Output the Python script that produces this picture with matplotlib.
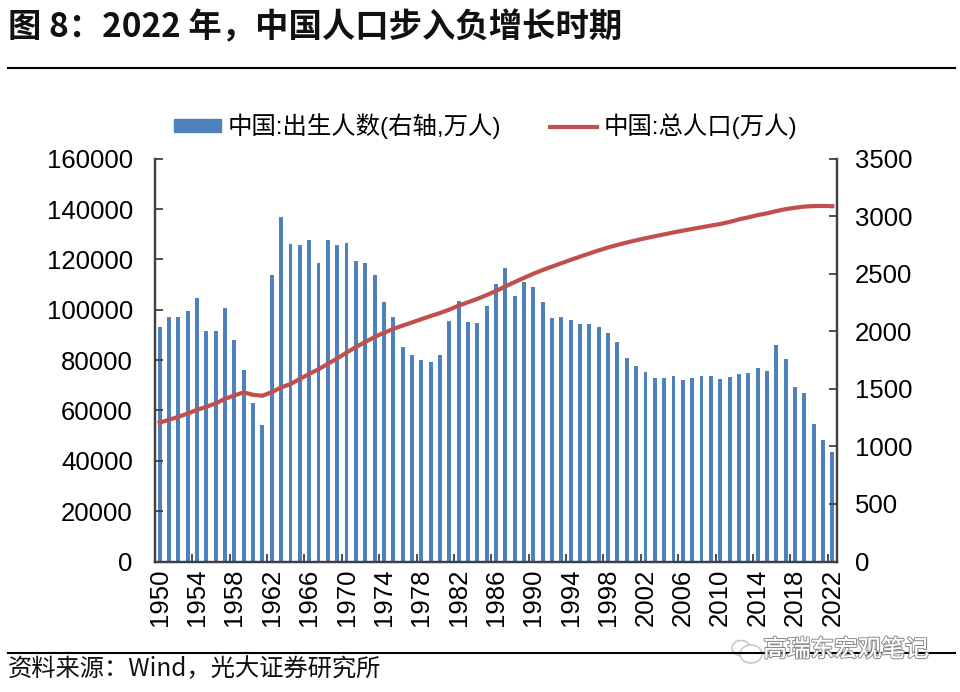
import numpy as np
import matplotlib
matplotlib.use('Agg')
import matplotlib.pyplot as plt
import matplotlib.patheffects as pe
from matplotlib.patches import Ellipse
from matplotlib.lines import Line2D
from matplotlib.patches import Patch

plt.rcParams['font.family'] = ['Liberation Sans', 'Noto Sans CJK SC', 'DejaVu Sans']

years = list(range(1950, 2023))

# 中国:出生人数, right axis
births = [2041, 2128, 2125, 2174, 2287, 2003, 2003, 2200, 1925, 1665,
          1378, 1184, 2487, 2996, 2756, 2747, 2794, 2591, 2794, 2750,
          2770, 2608, 2594, 2487, 2252, 2125, 1861, 1795, 1754, 1734,
          1792, 2090, 2261, 2079, 2076, 2223, 2409, 2548, 2304, 2429,
          2388, 2255, 2116, 2125, 2102, 2061, 2067, 2035, 1989, 1908,
          1769, 1699, 1647, 1598, 1592, 1615, 1581, 1592, 1610, 1612,
          1586, 1604, 1633, 1638, 1685, 1653, 1882, 1763, 1520, 1462,
          1196, 1057, 955]

# 中国:总人口, left axis
population = [55196, 56300, 57482, 58796, 60266, 61465, 62828, 64653, 65994, 67207,
              66207, 65859, 67296, 69172, 70499, 72538, 74542, 76368, 78534, 80671,
              82992, 85229, 87177, 89211, 90859, 92420, 93717, 94974, 96259, 97542,
              98705, 100072, 101654, 103008, 104357, 105851, 107507, 109300, 111026, 112704,
              114333, 115823, 117171, 118517, 119850, 121121, 122389, 123626, 124761, 125786,
              126743, 127627, 128453, 129227, 129988, 130756, 131448, 132129, 132802, 133450,
              134091, 134916, 135922, 136726, 137646, 138326, 139232, 140011, 140541, 141008,
              141212, 141260, 141175]

left_ticks = [0, 20000, 40000, 60000, 80000, 100000, 120000, 140000, 160000]
right_ticks = [0, 500, 1000, 1500, 2000, 2500, 3000, 3500]

title = '图 8\uff1a2022 年\uff0c中国人口步入负增长时期'
source = '资料来源\uff1aWind\uff0c光大证券研究所'
watermark = '高瑞东宏观笔记'

BLUE = '#4F81BD'
RED = '#C0504D'
AXIS = '#404040'
W, H = 960, 692

fig = plt.figure(figsize=(W / 100, H / 100), dpi=100)
ax_bar = fig.add_axes([155 / W, 1 - 561.5 / H, 682 / W, 402.7 / H])
ax_line = ax_bar.twinx()

x = np.arange(len(years))
ax_bar.bar(x, births, width=0.42, color=BLUE)
ax_line.plot(x, population, color=RED, lw=3)

# tick marks sit between the categories, labels under the bars
ax_bar.set_xticks(x[4::4] - 0.5)
ax_bar.set_xticklabels([])
ax_bar.set_xticks(x[::4], labels=[str(years[i]) for i in x[::4]], minor=True)
ax_bar.tick_params(axis='x', which='major', direction='in', length=6, width=1.3, color=AXIS)
ax_bar.tick_params(axis='x', which='minor', length=0, pad=5, labelsize=18.5, labelrotation=90)

ax_bar.set_xlim(-0.5, len(years) - 0.5)
ax_bar.set_ylim(0, 3500)
ax_line.set_ylim(0, 160000)

ax_bar.yaxis.tick_right()
ax_bar.set_yticks(right_ticks)
ax_bar.tick_params(axis='y', direction='in', length=6, width=1.3, color=AXIS, pad=13, labelsize=18.5)
ax_line.yaxis.tick_left()
ax_line.set_yticks(left_ticks)
ax_line.tick_params(axis='y', direction='in', length=6, width=1.3, color=AXIS, pad=16, labelsize=18.5)

for a in (ax_bar, ax_line):
    a.spines['top'].set_visible(False)
    for s in ('left', 'right', 'bottom'):
        a.spines[s].set_color(AXIS)
        a.spines[s].set_linewidth(1.6)

handles = [Patch(color=BLUE, label='中国:出生人数(右轴,万人)'),
           Line2D([], [], color=RED, lw=3, label='中国:总人口(万人)')]
fig.legend(handles=handles, ncol=2, frameon=False, fontsize=17.6, loc='center',
           bbox_to_anchor=(486 / W, 1 - 126.5 / H), handlelength=1.9, handleheight=0.45,
           handletextpad=0.29, columnspacing=2.0)

fig.text(8 / W, 1 - 28 / H, title, fontsize=24, fontweight='bold', va='center', ha='left',
         family=['Noto Sans CJK SC', 'DejaVu Sans'], color='#111111')
fig.text(8 / W, 1 - 669 / H, source, fontsize=17.5, va='center', ha='left',
         family=['Noto Sans CJK SC', 'DejaVu Sans'], color='#111111')

fig.add_artist(Line2D([8 / W, 955 / W], [1 - 68 / H] * 2, color='black', lw=1.5))
fig.add_artist(Line2D([8 / W, 955 / W], [1 - 653 / H] * 2, color='black', lw=1.5))

# watermark: wechat bubbles and outlined name
for cx, cy, bw, bh in [(741, 648, 18, 15), (751, 654, 22, 18)]:
    fig.add_artist(Ellipse((cx / W, 1 - cy / H), bw / W, bh / H, facecolor='white',
                           edgecolor='#c8c8c8', lw=1.2, transform=fig.transFigure))
fig.text(846 / W, 1 - 650 / H, watermark, fontsize=17, va='center', ha='center', color='white',
         family=['Noto Sans CJK SC', 'DejaVu Sans'],
         path_effects=[pe.withStroke(linewidth=1.6, foreground='#8a8a8a'), pe.Normal()])

fig.savefig('out.png', dpi=100)
